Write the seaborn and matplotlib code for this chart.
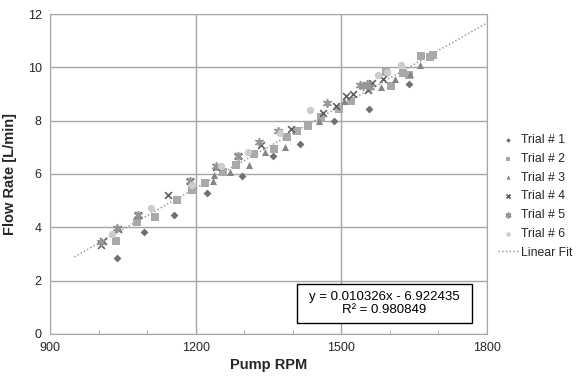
import numpy as np
import pandas as pd
import seaborn as sns
import matplotlib.pyplot as plt
from matplotlib.patches import Rectangle
from matplotlib.ticker import MultipleLocator

# values
trial_names = ['Trial # 1', 'Trial # 2', 'Trial # 3', 'Trial # 4', 'Trial # 5', 'Trial # 6']

rpm_1 = [1037, 1094, 1155, 1223, 1295, 1359, 1415, 1484, 1558, 1639]
flow_1 = [2.84, 3.82, 4.47, 5.27, 5.92, 6.69, 7.13, 8.00, 8.42, 9.36]

rpm_2 = [1036, 1080, 1117, 1161, 1192, 1219, 1256, 1284, 1321, 1361, 1388, 1409,
         1431, 1458, 1495, 1520, 1602, 1628, 1592, 1640, 1665, 1683, 1689]
flow_2 = [3.48, 4.18, 4.37, 5.01, 5.41, 5.67, 6.08, 6.32, 6.76, 6.95, 7.38, 7.60,
          7.81, 8.12, 8.44, 8.72, 9.31, 9.78, 9.82, 9.72, 10.43, 10.37, 10.47]

rpm_3 = [1236, 1238, 1270, 1309, 1342, 1384, 1455, 1505, 1581, 1610, 1642, 1663]
flow_3 = [5.72, 5.95, 6.07, 6.32, 6.82, 7.02, 8.00, 8.72, 9.28, 9.57, 9.76, 10.07]

rpm_4 = [1005, 1010, 1040, 1081, 1143, 1188, 1241, 1287, 1335, 1397, 1463, 1489,
         1510, 1525, 1554, 1564, 1585]
flow_4 = [3.33, 3.49, 3.95, 4.46, 5.21, 5.73, 6.27, 6.67, 7.08, 7.69, 8.29, 8.56,
          8.91, 9.01, 9.16, 9.41, 9.56]

rpm_5 = [1006, 1039, 1081, 1188, 1241, 1287, 1330, 1369, 1470, 1538, 1545, 1552, 1560]
flow_5 = [3.45, 3.96, 4.46, 5.73, 6.30, 6.69, 7.19, 7.60, 8.66, 9.35, 9.30, 9.38, 9.25]

rpm_6 = [1028, 1109, 1192, 1252, 1307, 1374, 1436, 1575, 1594, 1622]
flow_6 = [3.75, 4.71, 5.58, 6.29, 6.82, 7.54, 8.39, 9.72, 9.84, 10.07]

fit_slope = 0.010326
fit_icept = -6.922435
fit_r2 = 0.980849
fit_range = [950, 1800]

all_rpm = [rpm_1, rpm_2, rpm_3, rpm_4, rpm_5, rpm_6]
all_flow = [flow_1, flow_2, flow_3, flow_4, flow_5, flow_6]
df = pd.concat([pd.DataFrame({'rpm': r, 'flow': f, 'trial': n})
                for r, f, n in zip(all_rpm, all_flow, trial_names)])

colors = {'Trial # 1': '#707070', 'Trial # 2': '#a9a9a9', 'Trial # 3': '#868686',
          'Trial # 4': '#5e5e5e', 'Trial # 5': '#959595', 'Trial # 6': '#cccccc'}
marks = {'Trial # 1': 'D', 'Trial # 2': 's', 'Trial # 3': '^',
         'Trial # 4': 'x', 'Trial # 5': (6, 2, 0), 'Trial # 6': 'o'}
sizes = {'Trial # 1': 16, 'Trial # 2': 26, 'Trial # 3': 26,
         'Trial # 4': 24, 'Trial # 5': 30, 'Trial # 6': 28}

sns.set_style('white')
plt.rcParams['font.family'] = ['Liberation Sans', 'DejaVu Sans']

fig, ax = plt.subplots(figsize=(5.86, 3.79), dpi=100)
fig.subplots_adjust(left=0.0853, right=0.831, top=0.963, bottom=0.119)

for name in trial_names:
    sub = df[df['trial'] == name]
    lw = 1.2 if name in ('Trial # 4', 'Trial # 5') else 0
    sns.scatterplot(data=sub, x='rpm', y='flow', ax=ax, color=colors[name],
                    marker=marks[name], s=sizes[name], linewidth=lw,
                    edgecolor=colors[name], label=name, zorder=3)

fx = np.array(fit_range)
ax.plot(fx, fit_slope * fx + fit_icept, ls=':', color='#8c8c8c', lw=1.0,
        label='Linear Fit', zorder=2)

ax.set_xlim(900, 1800)
ax.set_ylim(0, 12)
ax.xaxis.set_major_locator(MultipleLocator(300))
ax.xaxis.set_minor_locator(MultipleLocator(100))
ax.yaxis.set_major_locator(MultipleLocator(2))
ax.tick_params(axis='both', which='major', length=0, labelsize=9, pad=6,
               labelcolor='#262626')
ax.tick_params(axis='x', which='minor', direction='in', length=3, color='#a0a0a0', bottom=True)
ax.grid(True, which='major', color='#a6a6a6', lw=1.0)
for sp in ax.spines.values():
    sp.set_color('#a6a6a6')

ax.set_xlabel('Pump RPM', fontsize=10.5, fontweight='bold', labelpad=3, color='#262626')
ax.set_ylabel('Flow Rate [L/min]', fontsize=10.5, fontweight='bold', labelpad=8, color='#262626')

# equation box
ax.add_patch(Rectangle((0.565, 0.034), 0.40, 0.1215, transform=ax.transAxes,
                       fc='white', ec='black', lw=1.0, zorder=5))
ax.text(0.765, 0.095, 'y = %.6fx - %.6f\nR² = %.6f' % (fit_slope, -fit_icept, fit_r2),
        transform=ax.transAxes, ha='center', va='center', fontsize=9.5,
        linespacing=1.05, color='black', zorder=6)

ax.legend(loc='center left', bbox_to_anchor=(1.0, 0.43), frameon=False,
          fontsize=8.8, markerscale=0.6, handlelength=1.6, handletextpad=0.3,
          labelspacing=0.55)

fig.savefig('out.png', dpi=100)
